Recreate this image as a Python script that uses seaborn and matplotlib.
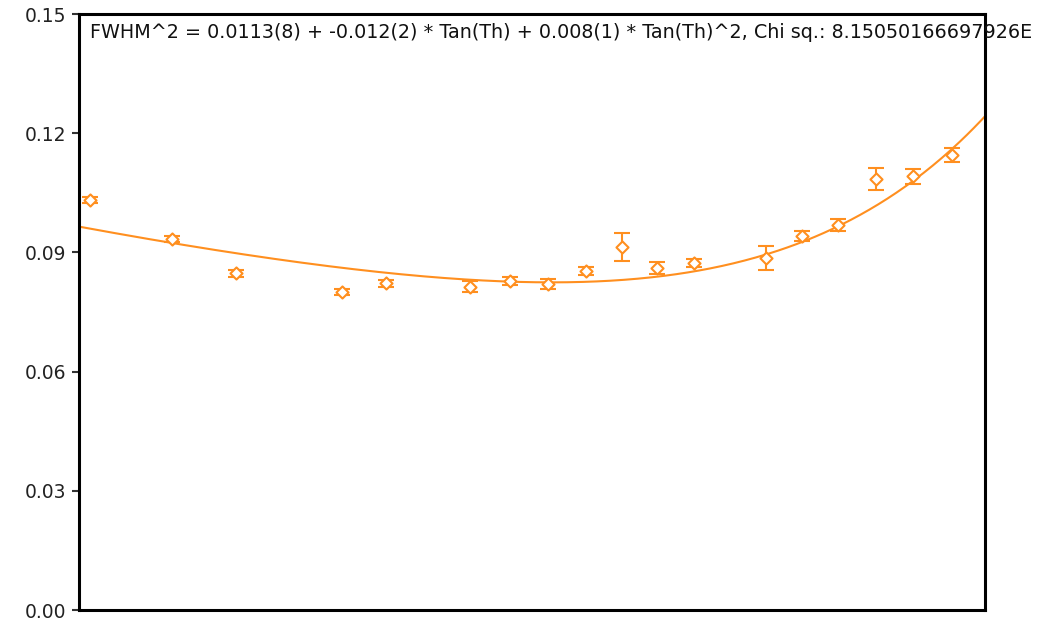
import numpy as np
import pandas as pd
import matplotlib
matplotlib.use("Agg")
import matplotlib.pyplot as plt
import seaborn as sns

# Data (x = 2-theta, degrees; y = FWHM)
two_theta = [22.7, 31.8, 38.8, 50.6, 55.4, 64.7, 69.1, 73.3, 77.5, 81.5,
             85.4, 89.4, 97.4, 101.4, 105.4, 109.6, 113.6, 118.0]
fwhm = [0.1032, 0.0933, 0.0847, 0.0801, 0.0822, 0.0814, 0.0829, 0.0821, 0.0854,
        0.0914, 0.0860, 0.0874, 0.0885, 0.0941, 0.0969, 0.1085, 0.1092, 0.1145]
fwhm_err = [0.0008, 0.0008, 0.0008, 0.0008, 0.0008, 0.0013, 0.0010, 0.0013, 0.0010,
            0.0035, 0.0015, 0.0010, 0.0030, 0.0013, 0.0016, 0.0027, 0.0019, 0.0018]

# Caglioti fit coefficients: FWHM^2 = W + V*tan(th) + U*tan(th)^2
W_coef = 0.0113
V_coef = -0.012
U_coef = 0.008
x_range = [21.5, 121.6]
y_ticks = [0.00, 0.03, 0.06, 0.09, 0.12, 0.15]
y_tick_labels = ["0.00", "0.03", "0.06", "0.09", "0.12", "0.15"]
title_text = ("FWHM^2 = 0.0113(8) + -0.012(2) * Tan(Th) + 0.008(1) * Tan(Th)^2, "
              "Chi sq.: 8.15050166697926E")

color = "#FF8F1F"

sns.set_theme(style="white")
plt.rcParams['font.family'] = ['DejaVu Sans']

fig = plt.figure(figsize=(10.37, 6.28), dpi=100)
ax = fig.add_axes([79 / 1037, 18 / 628, 906 / 1037, 596 / 628])

# fit curve
xx = np.linspace(x_range[0], x_range[1], 400)
t = np.tan(np.radians(xx / 2.0))
yy = np.sqrt(W_coef + V_coef * t + U_coef * t ** 2)
fit_df = pd.DataFrame({"x": xx, "y": yy})
sns.lineplot(data=fit_df, x="x", y="y", ax=ax, color=color, linewidth=1.5, zorder=2)

# data points with error bars
pts = pd.DataFrame({"x": two_theta, "y": fwhm, "e": fwhm_err})
ax.errorbar(pts["x"], pts["y"], yerr=pts["e"], fmt="none", ecolor=color,
            elinewidth=1.5, capsize=5.5, capthick=1.5, zorder=3)
sns.scatterplot(data=pts, x="x", y="y", ax=ax, marker="D", s=38,
                facecolor="white", edgecolor=color, linewidth=1.5, zorder=4)

ax.set_xlim(x_range)
ax.set_ylim(0, 0.15)
ax.set_yticks(y_ticks)
ax.set_yticklabels(y_tick_labels, fontsize=13.5, color="#222222")
ax.set_xticks([])
ax.set_xlabel("")
ax.set_ylabel("")
ax.tick_params(axis="y", which="both", left=True, length=5, width=1.5,
               color="#333333", pad=4)
for sp in ax.spines.values():
    sp.set_visible(True)
    sp.set_color("black")
    sp.set_linewidth(2.2)

fig.text(90 / 1037, 1 - 23 / 628, title_text, ha="left", va="top",
         fontsize=13.8, color="#111111", zorder=10)

fig.savefig("out.png", dpi=100, facecolor="white")
